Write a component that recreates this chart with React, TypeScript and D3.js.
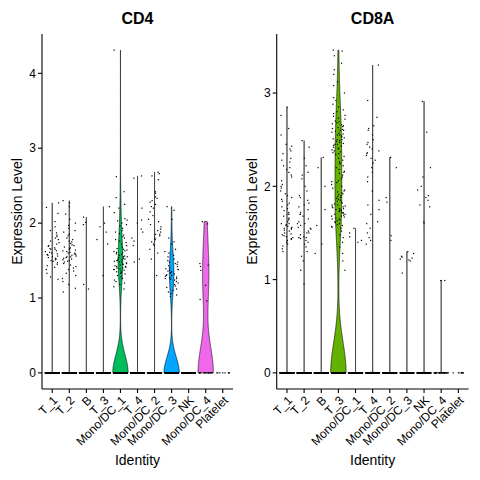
import React from "react";
import * as d3 from "d3";

const categories = ["T_1", "T_2", "B", "T_3", "Mono/DC_1", "T_4", "Mono/DC_2", "Mono/DC_3", "NK", "Mono/DC_4", "Platelet"];
const colors = ["#F8766D", "#DB8E00", "#AEA200", "#64B200", "#00BD5C", "#00C1A7", "#00BADE", "#00A6FF", "#B385FF", "#EF67EB", "#FF63B6"];
const cellCounts = [500, 450, 340, 300, 250, 200, 200, 170, 150, 24, 8];

const cd4Ticks = [0, 1, 2, 3, 4];
const cd8aTicks = [0, 1, 2, 3];

// non-zero expression values per identity (cells not listed are at 0)
const cd4T1 = [2.27, 2.21, 2.13, 2.02, 1.95, 1.9, 1.87, 1.84, 1.82, 1.8, 1.78, 1.76, 1.74, 1.72, 1.7, 1.69, 1.67, 1.66, 1.65, 1.63, 1.62, 1.61, 1.6, 1.59, 1.58, 1.57, 1.56, 1.55, 1.54, 1.53, 1.52, 1.51, 1.5, 1.49, 1.47, 1.45, 1.43, 1.41, 1.38, 1.33, 1.28, 1.25, 1.65, 1.58];
const cd4T2 = [2.3, 2.27, 2.22, 2.12, 2.05, 2.0, 1.97, 1.93, 1.9, 1.88, 1.85, 1.83, 1.8, 1.78, 1.76, 1.75, 1.73, 1.71, 1.7, 1.68, 1.67, 1.66, 1.64, 1.63, 1.62, 1.61, 1.6, 1.59, 1.58, 1.57, 1.56, 1.55, 1.54, 1.53, 1.52, 1.51, 1.5, 1.49, 1.48, 1.46, 1.44, 1.42, 1.4, 1.38, 1.36, 1.33, 1.3, 1.26, 1.22, 1.18, 1.13, 1.08, 1.6, 1.55, 1.65];
const cd4B = [2.08, 2.01, 1.98, 1.18, 1.12];
const cd4T3 = [2.22, 2.0, 1.95, 1.88, 1.78, 1.72, 1.3];
const cd4Mono1 = [4.31, 2.62, 2.42, 2.34, 2.25, 2.2, 2.14, 2.06, 2.04, 2.03, 2.0, 1.98, 1.96, 1.93, 1.9, 1.88, 1.86, 1.84, 1.82, 1.8, 1.78, 1.76, 1.74, 1.72, 1.7, 1.68, 1.66, 1.65, 1.64, 1.63, 1.62, 1.61, 1.6, 1.59, 1.58, 1.57, 1.56, 1.55, 1.54, 1.53, 1.52, 1.51, 1.5, 1.5, 1.49, 1.48, 1.47, 1.46, 1.45, 1.44, 1.43, 1.42, 1.41, 1.4, 1.39, 1.38, 1.37, 1.36, 1.35, 1.34, 1.33, 1.32, 1.3, 1.28, 1.26, 1.24, 1.22, 1.2, 1.18, 1.15, 1.12, 1.45, 1.42, 1.48, 1.52, 1.38, 1.55, 1.4];
const cd4T4 = [2.63, 2.6, 2.2, 2.04, 2.0, 1.92, 1.88, 1.8, 1.76, 1.7, 1.52, 1.48];
const cd4Mono2 = [2.68, 2.66, 2.63, 2.58, 2.42, 2.4, 2.35, 2.33, 2.3, 2.28, 2.25, 2.22, 2.2, 2.15, 2.1, 2.05, 2.02, 1.98, 1.95, 1.92, 1.9, 1.88, 1.85, 1.83, 1.8, 1.78, 1.75, 1.72, 1.7, 1.85, 1.65, 1.6, 1.52, 1.3];
const cd4Mono3 = [2.22, 2.17, 2.05, 1.8, 1.75, 1.72, 1.65, 1.62, 1.6, 1.57, 1.55, 1.52, 1.5, 1.48, 1.46, 1.45, 1.43, 1.42, 1.4, 1.39, 1.38, 1.37, 1.36, 1.35, 1.34, 1.33, 1.32, 1.31, 1.3, 1.29, 1.28, 1.27, 1.26, 1.25, 1.24, 1.22, 1.2, 1.18, 1.16, 1.14, 1.12, 1.1, 1.08, 1.06, 1.04, 1.02, 1.38, 1.3, 1.26, 1.48];
const cd4NK: number[] = [];
const cd4Mono4 = [2.02, 1.99, 1.46, 1.44, 1.42, 1.37, 1.17, 0.98, 0.96];
const cd4Platelet: number[] = [];

const cd8aT1 = [2.85, 2.76, 2.62, 2.55, 2.45, 2.43, 2.4, 2.38, 2.35, 2.3, 2.28, 2.26, 2.22, 2.2, 2.18, 2.15, 2.12, 2.1, 2.06, 2.02, 2.0, 1.98, 1.95, 1.92, 1.9, 1.88, 1.86, 1.84, 1.82, 1.8, 1.78, 1.76, 1.74, 1.72, 1.7, 1.68, 1.66, 1.65, 1.64, 1.62, 1.6, 1.59, 1.58, 1.57, 1.56, 1.55, 1.54, 1.53, 1.52, 1.5, 1.49, 1.48, 1.47, 1.46, 1.45, 1.44, 1.43, 1.42, 1.4, 1.38, 1.36, 1.33, 1.3, 1.6, 1.7, 1.55];
const cd8aT2 = [2.49, 2.42, 2.3, 2.22, 2.15, 2.12, 2.08, 2.0, 1.95, 1.9, 1.88, 1.85, 1.82, 1.8, 1.78, 1.75, 1.72, 1.7, 1.68, 1.65, 1.62, 1.6, 1.58, 1.56, 1.55, 1.54, 1.52, 1.5, 1.48, 1.46, 1.45, 1.44, 1.42, 1.4, 1.38, 1.35, 1.3, 1.25, 1.2, 1.1, 0.95, 1.5, 1.6, 1.7, 1.45];
const cd8aB = [2.31, 2.2, 2.0, 1.75, 1.58, 1.38, 1.28];
const cd8aT3 = [3.46, 3.45, 3.4, 3.32, 3.25, 3.2, 3.12, 3.08, 3.0, 2.95, 2.92, 2.88, 2.85,
  2.82, 2.8, 2.78, 2.76, 2.75, 2.73, 2.72, 2.7, 2.69, 2.68, 2.67, 2.66, 2.65, 2.64, 2.63, 2.62, 2.61, 2.6, 2.59, 2.58, 2.57, 2.56, 2.55, 2.54, 2.53, 2.52, 2.51, 2.5, 2.49, 2.48, 2.47, 2.46, 2.45, 2.44, 2.43, 2.42, 2.41, 2.4, 2.39, 2.38, 2.37, 2.36, 2.35, 2.34, 2.32, 2.3, 2.55, 2.6, 2.5, 2.45,
  2.28, 2.26, 2.24, 2.22, 2.2, 2.18, 2.16, 2.14, 2.12, 2.1, 2.08, 2.06, 2.04, 2.02, 2.0, 1.98, 1.96, 2.15, 2.05, 2.25,
  1.95, 1.94, 1.93, 1.92, 1.91, 1.9, 1.89, 1.88, 1.87, 1.86, 1.85, 1.84, 1.83, 1.82, 1.81, 1.8, 1.79, 1.78, 1.77, 1.76, 1.75, 1.74, 1.73, 1.72, 1.71, 1.7, 1.69, 1.68, 1.67, 1.66, 1.65, 1.64, 1.63, 1.62, 1.61, 1.6, 1.59, 1.58, 1.57, 1.56, 1.55, 1.75, 1.72, 1.78, 1.7, 1.68, 1.8, 1.65, 1.76, 1.74,
  1.52, 1.48, 1.45, 1.4, 1.35, 1.28, 1.2, 1.1];
const cd8aMono1 = [1.55, 1.5, 1.46, 1.42, 1.4];
const cd8aT4 = [3.3, 2.92, 2.74, 2.65, 2.62, 2.6, 2.55, 2.5, 2.47, 2.45, 2.42, 2.4, 2.38, 2.36, 2.35, 2.33, 2.3, 2.28, 2.25, 2.2, 2.15, 2.1, 2.05, 1.95, 1.85, 1.8, 1.75, 1.7, 1.62, 1.6, 1.55, 1.5, 1.45, 1.42, 1.38];
const cd8aMono2 = [2.31, 2.2, 1.88, 1.83, 1.47, 1.42];
const cd8aMono3 = [1.3, 1.28, 1.25, 1.24, 1.23, 1.22, 1.21, 1.2, 1.07];
const cd8aNK = [2.91, 2.58, 2.2, 2.1, 2.0, 1.96, 1.9, 1.88, 1.85, 1.8, 1.78, 1.62, 1.6];
const cd8aMono4 = [0.99, 0.99];
const cd8aPlatelet: number[] = [];

const cd4Values = [cd4T1, cd4T2, cd4B, cd4T3, cd4Mono1, cd4T4, cd4Mono2, cd4Mono3, cd4NK, cd4Mono4, cd4Platelet];
const cd8aValues = [cd8aT1, cd8aT2, cd8aB, cd8aT3, cd8aMono1, cd8aT4, cd8aMono2, cd8aMono3, cd8aNK, cd8aMono4, cd8aPlatelet];

const FONT = "'Liberation Sans', Arial, Helvetica, sans-serif";
const TOP = 34;
const BOTTOM = 389;
const NOISE_IQR = 1.35e-5; // IQR of the tiny noise Seurat adds before the violin density

function bwNrd0(x: number[]): number {
  const sorted = x.slice().sort((a, b) => a - b);
  const hi = d3.deviation(sorted) || 0;
  let iqr = (d3.quantileSorted(sorted, 0.75) || 0) - (d3.quantileSorted(sorted, 0.25) || 0);
  if (iqr === 0) iqr = NOISE_IQR;
  let lo = Math.min(hi, iqr / 1.34);
  if (!lo) lo = hi || Math.abs(sorted[0]) || 1;
  return 0.9 * lo * Math.pow(sorted.length, -0.2);
}

function violinPoints(nonzero: number[], zeros: number) {
  const all = nonzero.concat(new Array(zeros).fill(0));
  const mn = d3.min(all) as number;
  const mx = d3.max(all) as number;
  if (!(mx > mn)) return null;
  const bw = bwNrd0(all);
  const n = all.length;
  const out: { y: number; d: number }[] = [];
  const K = 512;
  const c = 1 / (n * bw * Math.sqrt(2 * Math.PI));
  for (let k = 0; k < K; k++) {
    const yv = mn + ((mx - mn) * k) / (K - 1);
    let s = zeros * Math.exp(-0.5 * (yv / bw) * (yv / bw));
    for (const v of nonzero) {
      const z = (yv - v) / bw;
      s += Math.exp(-0.5 * z * z);
    }
    out.push({ y: yv, d: s * c });
  }
  const maxD = d3.max(out, (o) => o.d) as number;
  return out.map((o) => ({ y: o.y, w: o.d / maxD }));
}

function jitter(i: number, g: number): number {
  const s = Math.sin(i * 12.9898 + g * 78.233 + 0.5) * 43758.5453;
  return s - Math.floor(s);
}

function Panel({ title, values, ticks, x0, x1, ylabX, seed }: { title: string; values: number[][]; ticks: number[]; x0: number; x1: number; ylabX: number; seed: number }) {
  const allMax = d3.max(values.map((v) => d3.max(v) || 0)) as number;
  const pad = allMax * 0.05;
  const y = d3.scaleLinear().domain([-pad, allMax + pad]).range([BOTTOM, TOP]);
  const x = d3.scalePoint<string>().domain(categories).range([x0, x1]).padding(0.6);
  const step = x.step();
  const half = 0.45 * step;
  const cx = (x0 + x1) / 2;

  return (
    <g>
      {categories.map((cat, gi) => {
        const zeros = cellCounts[gi] - values[gi].length;
        const pts = violinPoints(values[gi], zeros);
        if (!pts) return null;
        const px = x(cat) as number;
        const a = d3
          .area<{ y: number; w: number }>()
          .y((d) => y(d.y))
          .x0((d) => px - d.w * half)
          .x1((d) => px + d.w * half);
        return <path key={cat} d={a(pts) || ""} fill={colors[gi]} stroke="#000" strokeWidth={0.6} />;
      })}
      {categories.map((cat, gi) => {
        const zeros = cellCounts[gi] - values[gi].length;
        const px = x(cat) as number;
        const all = values[gi].concat(new Array(zeros).fill(0));
        return (
          <g key={cat}>
            {all.map((v, i) => (
              <rect
                key={i}
                x={px + (jitter(i, gi + seed) * 2 - 1) * 0.4 * step - 0.6}
                y={y(v) - 0.6}
                width={1.2}
                height={1.2}
                fill="#000"
              />
            ))}
          </g>
        );
      })}
      <line x1={x0} x2={x0} y1={TOP} y2={BOTTOM} stroke="#000" strokeWidth={1.1} />
      <line x1={x0} x2={x1} y1={BOTTOM} y2={BOTTOM} stroke="#000" strokeWidth={1.1} />
      {ticks.map((t) => (
        <g key={t}>
          <line x1={x0 - 4} x2={x0} y1={y(t)} y2={y(t)} stroke="#000" strokeWidth={1.1} />
          <text x={x0 - 6} y={y(t)} dy="0.35em" textAnchor="end" fontSize={12} fontFamily={FONT} fill="#000">
            {t}
          </text>
        </g>
      ))}
      {categories.map((cat) => {
        const px = x(cat) as number;
        return (
          <g key={cat}>
            <line x1={px} x2={px} y1={BOTTOM} y2={BOTTOM + 4} stroke="#000" strokeWidth={1.1} />
            <text transform={`translate(${px},${BOTTOM + 6}) rotate(-45)`} dy="0.71em" textAnchor="end" fontSize={12} fontFamily={FONT} fill="#000">
              {cat}
            </text>
          </g>
        );
      })}
      <text x={cx} y={24} textAnchor="middle" fontSize={16} fontWeight="bold" fontFamily={FONT} fill="#000">
        {title}
      </text>
      <text x={cx} y={465} textAnchor="middle" fontSize={14} fontFamily={FONT} fill="#000">
        Identity
      </text>
      <text transform={`translate(${ylabX},${(TOP + BOTTOM) / 2}) rotate(-90)`} textAnchor="middle" fontSize={14} fontFamily={FONT} fill="#000">
        Expression Level
      </text>
    </g>
  );
}

export default function App() {
  return (
    <svg width={480} height={480} style={{ position: "absolute", left: 0, top: 0, background: "#fff" }}>
      <rect width={480} height={480} fill="#fff" />
      <Panel title="CD4" values={cd4Values} ticks={cd4Ticks} x0={42} x1={233} ylabX={22} seed={0} />
      <Panel title="CD8A" values={cd8aValues} ticks={cd8aTicks} x0={276.7} x1={468.6} ylabX={256.5} seed={20} />
    </svg>
  );
}
